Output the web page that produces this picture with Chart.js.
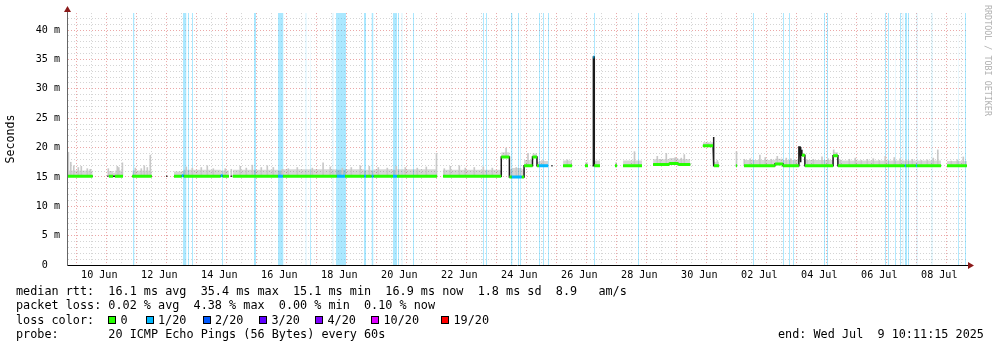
<!DOCTYPE html>
<html>
<head>
<meta charset="utf-8">
<script src="https://cdn.jsdelivr.net/npm/chart.js@4.4.1/dist/chart.umd.min.js"></script>
<style>
  body { margin: 0; background: #fff; }
  #wrap { position: relative; width: 997px; height: 347px; }
  .txt { position: absolute; left: 16px; font-family: "DejaVu Sans Mono", monospace; font-size: 11.8px; line-height: 14px; white-space: pre; color: #000; }
  .box { position: absolute; top: 316px; width: 6px; height: 6px; border: 1px solid #000; }
  #credit { position: absolute; left: 992px; top: 5px; transform: rotate(90deg); transform-origin: 0 0; font-family: "DejaVu Sans Mono", monospace; font-size: 8.4px; line-height: 9px; color: #b0b0b0; white-space: pre; }
</style>
</head>
<body>
<div id="wrap">
  <canvas id="chart" width="997" height="347"></canvas>
  <div class="txt" style="top:284px">median rtt:  16.1 ms avg  35.4 ms max  15.1 ms min  16.9 ms now  1.8 ms sd  8.9   am/s</div>
  <div class="txt" style="top:298.4px">packet loss: 0.02 % avg  4.38 % max  0.00 % min  0.10 % now</div>
  <div class="txt" style="top:312.8px">loss color:</div>
  <div id="losslegend"></div>
  <div class="txt" style="top:327.2px">probe:       20 ICMP Echo Pings (56 Bytes) every 60s</div>
  <div class="txt" style="top:327.2px;left:778px">end: Wed Jul  9 10:11:15 2025</div>
  <div id="credit">RRDTOOL / TOBI OETIKER</div>
</div>
<script>
// x values are days since 9 Jun 2025 00:00
const xMin = 0.424;
const xMax = 30.424;
const yMax = 42.9;

const xLabelDays = [1.5, 3.5, 5.5, 7.5, 9.5, 11.5, 13.5, 15.5, 17.5, 19.5, 21.5, 23.5, 25.5, 27.5, 29.5];
const xLabels = ["10 Jun", "12 Jun", "14 Jun", "16 Jun", "18 Jun", "20 Jun", "22 Jun", "24 Jun",
  "26 Jun", "28 Jun", "30 Jun", "02 Jul", "04 Jul", "06 Jul", "08 Jul"];
const yLabelValues = [0, 5, 10, 15, 20, 25, 30, 35, 40];
const yLabels = ["0  ", "5 m", "10 m", "15 m", "20 m", "25 m", "30 m", "35 m", "40 m"];

// median rtt (ms) as runs: start, end, value, loss class (null = no colour)
const medStart = [0.42, 1.77, 1.82, 1.96, 2.02, 2.60, 3.73, 3.99, 4.25, 4.31, 5.55, 5.61, 5.88, 5.95, 7.46, 7.62,
  9.42, 9.69, 10.33, 10.39, 10.58, 10.64, 11.29, 11.42, 12.96, 14.90, 15.17, 15.25, 15.58, 15.66, 15.94, 16.09,
  16.16, 16.57, 16.96, 17.69, 17.94, 17.97, 18.00, 18.69, 18.96, 19.96, 20.50, 20.80, 21.62, 21.96, 21.99, 22.72,
  22.99, 24.02, 24.29, 24.82, 24.86, 24.89, 24.92, 25.02, 25.96, 26.12, 28.35, 28.39, 28.72, 28.76, 29.76];
const medEnd = [1.28, 1.80, 1.96, 2.02, 2.29, 3.25, 3.77, 4.25, 4.31, 5.55, 5.61, 5.82, 5.92, 7.46, 7.62, 9.42,
  9.69, 10.33, 10.39, 10.58, 10.64, 11.29, 11.42, 12.76, 14.90, 15.17, 15.25, 15.58, 15.66, 15.94, 16.09, 16.16,
  16.46, 16.61, 17.26, 17.79, 17.97, 18.00, 18.19, 18.76, 19.59, 20.50, 20.80, 21.20, 21.96, 21.99, 22.16, 22.76,
  24.02, 24.29, 24.82, 24.86, 24.89, 24.92, 25.02, 25.96, 26.12, 28.35, 28.39, 28.72, 28.76, 29.56, 30.42];
const medValue = [15.1, 15.1, 15.1, 15.1, 15.1, 15.1, 15.1, 15.1, 15.2, 15.1, 15.2, 15.1, 15.1, 15.1, 15.1, 15.1,
  15.1, 15.1, 15.1, 15.1, 15.1, 15.1, 15.1, 15.1, 15.1, 18.4, 15.0, 15.0, 15.0, 16.9, 18.4, 16.9,
  16.9, 16.9, 16.9, 16.9, 16.9, 35.4, 16.9, 16.9, 16.9, 17.1, 17.3, 17.1, 20.3, 21.8, 16.9, 16.9,
  16.9, 17.2, 16.9, 20.1, 17.5, 19.5, 18.7, 16.9, 18.6, 16.9, 16.9, 16.9, 16.9, 16.9, 16.9];
const medLoss = [0, null, 0, null, 0, 0, null, 0, 1, 0, 1, 0, null, 0, 1, 0,
  1, 0, 1, 0, 1, 0, 1, 0, 0, 0, 0, 1, 0, 0, 0, 0,
  1, null, 0, 0, null, 1, 0, 0, 0, 0, 0, 0, 0, 0, 0, 0,
  0, 0, 0, null, null, null, 0, 0, 0, 0, 1, 0, 1, 0, 0];
const smokeTop = [16.1, 15.1, 16.0, 15.7, 16.1, 16.1, 15.1, 15.9, 16.0, 16.2, 16.1, 16.1, 15.1, 16.2, 16.1, 16.3,
  16.2, 16.3, 16.1, 16.2, 16.1, 16.3, 16.2, 16.3, 16.2, 19.2, 16.3, 16.5, 16.3, 17.9, 19.0, 17.6,
  17.7, 16.9, 17.8, 17.5, 16.9, 35.4, 17.8, 17.5, 17.8, 18.0, 18.2, 18.0, 20.9, 21.8, 17.6, 17.5,
  17.9, 18.1, 17.9, 20.1, 17.5, 19.5, 19.0, 17.9, 19.2, 17.8, 17.7, 17.8, 17.6, 17.8, 17.7];

// single tall smoke hairs
const spikeTime = [0.47, 0.55, 0.65, 0.8, 0.9, 1.1, 1.2, 1.8, 2.1, 2.15, 2.27, 2.7, 2.9, 3.0, 3.1, 3.2, 4.4, 4.6,
  4.9, 5.1, 5.3, 5.7, 5.9, 6.2, 6.4, 6.6, 6.9, 7.1, 7.3, 7.6, 7.8, 8.1, 8.6, 8.96, 9.2, 9.6, 9.9, 10.2,
  10.5, 10.8, 11.1, 11.4, 11.7, 12.1, 12.4, 12.74, 13.0, 13.2, 13.5, 13.7, 14.0, 14.3, 14.6, 15.06, 15.4,
  15.79, 16.3, 17.1, 18.05, 19.34, 20.1, 20.2, 20.4, 20.7, 20.9, 21.0, 21.79, 22.1, 22.74, 23.0, 23.2,
  23.52, 23.7, 23.9, 24.1, 24.4, 24.55, 24.7, 25.1, 25.3, 25.59, 25.8, 25.98, 26.2, 26.5, 26.7, 26.9,
  27.1, 27.3, 27.5, 27.7, 28.0, 28.2, 28.4, 28.6, 28.9, 29.1, 29.3, 29.45, 29.9, 30.1, 30.3];
const spikeTop = [19.2, 17.5, 16.9, 16.6, 16.8, 16.4, 16.3, 16.4, 16.8, 16.6, 17.4, 16.5, 16.4, 16.9, 16.6, 18.7, 16.7, 16.5,
  16.6, 16.9, 16.4, 16.4, 16.3, 16.8, 16.5, 17.0, 16.6, 16.9, 16.6, 16.3, 16.4, 16.6, 16.5, 17.4, 16.7, 16.5, 16.6, 16.9,
  16.8, 16.6, 16.5, 16.8, 16.6, 16.5, 16.7, 19.0, 16.4, 16.8, 16.9, 16.5, 16.6, 16.7, 16.5, 19.9, 16.6,
  19.0, 17.8, 17.9, 17.6, 19.3, 18.5, 18.0, 19.0, 18.3, 18.2, 18.8, 20.7, 17.8, 19.3, 18.0, 18.1,
  18.7, 18.3, 18.0, 18.5, 18.2, 18.1, 17.9, 17.9, 18.0, 18.4, 18.1, 19.6, 17.9, 18.0, 18.2, 17.8,
  18.0, 18.1, 17.8, 18.5, 18.3, 18.1, 17.9, 18.0, 17.8, 17.9, 18.2, 19.6, 17.7, 17.9, 18.4];

// packet loss periods (full height bars)
const lossStart = [2.624, 4.291, 4.457, 4.591, 5.591, 6.657, 7.457, 8.374, 8.524, 9.274, 9.391, 10.324, 10.574,
  11.291, 11.457, 11.574, 11.957, 14.291, 14.391, 15.224, 15.457, 15.524, 16.157, 16.291, 16.457, 17.991,
  19.457, 23.291, 24.291, 24.491, 24.624, 25.657, 25.757, 27.691, 27.791, 28.024, 28.191, 28.274, 28.357,
  28.457, 28.741, 29.241, 30.124, 30.357];
const lossEnd = [2.674, 4.407, 4.491, 4.624, 5.624, 6.724, 7.641, 8.407, 8.557, 9.307, 9.724, 10.391, 10.641,
  11.424, 11.491, 11.607, 11.991, 14.324, 14.424, 15.274, 15.491, 15.557, 16.191, 16.324, 16.491, 18.024,
  19.491, 23.324, 24.324, 24.524, 24.657, 25.691, 25.791, 27.724, 27.824, 28.057, 28.224, 28.307, 28.424,
  28.491, 28.774, 29.274, 30.157, 30.391];

const lossColors = ["#26ff00", "#00b8ff", "#0059ff", "#5e00ff", "#7e00ff", "#dd00ff", "#ff0000"];
const lossNames = ["0", "1/20", "2/20", "3/20", "4/20", "10/20", "19/20"];
const lossBoxX = [108, 145.5, 202.5, 259, 315, 371, 441];

// legend boxes
const legend = document.getElementById("losslegend");
lossNames.forEach((name, i) => {
  const b = document.createElement("div");
  b.className = "box";
  b.style.left = lossBoxX[i] + "px";
  b.style.background = lossColors[i];
  legend.appendChild(b);
  const t = document.createElement("div");
  t.className = "txt";
  t.style.top = "312.8px";
  t.style.left = (lossBoxX[i] + 12.5) + "px";
  t.textContent = name;
  legend.appendChild(t);
});

function runPoints(values, keep) {
  const pts = [];
  for (let i = 0; i < medStart.length; i++) {
    if (keep && !keep(i)) continue;
    pts.push({ x: medStart[i], y: values[i] }, { x: medEnd[i], y: values[i] });
    const next = medStart[i + 1];
    if (keep || next === undefined || next - medEnd[i] > 0.001) pts.push({ x: medEnd[i], y: null });
  }
  return pts;
}

function medianAt(t) {
  for (let i = 0; i < medStart.length; i++) {
    if (t >= medStart[i] && t <= medEnd[i]) return medValue[i];
  }
  return null;
}

const lossPoints = [];
lossStart.forEach((s, i) => {
  lossPoints.push({ x: s, y: yMax }, { x: lossEnd[i], y: yMax }, { x: lossEnd[i], y: null });
});

const spikeBars = spikeTime.map((t, i) => ({ x: t, y: [medianAt(t), spikeTop[i]] }));

const arrows = {
  id: "arrows",
  afterDraw(chart) {
    const { ctx, chartArea: a } = chart;
    ctx.save();
    ctx.strokeStyle = "#666";
    ctx.lineWidth = 1;
    ctx.beginPath();
    ctx.moveTo(a.left + 0.5, a.top);
    ctx.lineTo(a.left + 0.5, a.top - 3);
    ctx.stroke();
    ctx.strokeStyle = "#000";
    ctx.beginPath();
    ctx.moveTo(a.right, a.bottom + 0.5);
    ctx.lineTo(a.right + 2, a.bottom + 0.5);
    ctx.stroke();
    ctx.fillStyle = "#8b1a1a";
    ctx.beginPath();
    ctx.moveTo(a.left - 3, a.top - 1);
    ctx.lineTo(a.left + 4, a.top - 1);
    ctx.lineTo(a.left + 0.5, a.top - 7);
    ctx.closePath();
    ctx.fill();
    ctx.beginPath();
    ctx.moveTo(a.right + 1, a.bottom - 3);
    ctx.lineTo(a.right + 1, a.bottom + 4);
    ctx.lineTo(a.right + 7, a.bottom + 0.5);
    ctx.closePath();
    ctx.fill();
    ctx.restore();
  }
};

Chart.defaults.font.family = "'DejaVu Sans Mono', monospace";
Chart.defaults.color = "#000";

const majorGrid = "rgba(215, 80, 80, 0.5)";
const minorGrid = "#d4d4d4";

const ctx = document.getElementById("chart").getContext("2d");
const chart = new Chart(ctx, {
  type: "line",
  data: {
    datasets: [
      {
        label: "loss",
        data: lossPoints,
        borderColor: "rgba(0,0,0,0)",
        backgroundColor: "rgba(0, 184, 255, 0.33)",
        fill: "origin",
        pointRadius: 0,
        order: 10,
      },
      {
        label: "smoke",
        data: runPoints(smokeTop),
        borderColor: "rgba(0,0,0,0)",
        backgroundColor: "rgba(0, 0, 0, 0.16)",
        fill: 2,
        pointRadius: 0,
        order: 9,
      },
      {
        label: "median",
        data: runPoints(medValue),
        borderColor: "#1a1a1a",
        borderWidth: 1.5,
        pointRadius: 0,
        fill: false,
        order: 7,
      },
      {
        type: "bar",
        label: "smoke hairs",
        data: spikeBars,
        backgroundColor: "#c8c8c8",
        barThickness: 1,
        order: 8,
      },
      {
        label: "loss 0",
        data: runPoints(medValue, (i) => medLoss[i] === 0),
        borderColor: lossColors[0],
        borderWidth: 3,
        pointRadius: 0,
        fill: false,
        order: 6,
      },
      {
        label: "loss 1/20",
        data: runPoints(medValue, (i) => medLoss[i] === 1),
        borderColor: lossColors[1],
        borderWidth: 3,
        pointRadius: 0,
        fill: false,
        order: 5,
      },
    ],
  },
  options: {
    responsive: false,
    devicePixelRatio: 1,
    animation: false,
    layout: { padding: { left: 0, right: 30, top: 13, bottom: 62 } },
    plugins: { legend: { display: false }, tooltip: { enabled: false } },
    scales: {
      x: {
        type: "linear",
        min: xMin,
        max: xMax,
        offset: false,
        afterBuildTicks(scale) {
          const ticks = [];
          for (let v = 0.5; v <= 30; v += 0.5) ticks.push({ value: v });
          scale.ticks = ticks;
        },
        afterFit(scale) { scale.height = 20; },
        grid: {
          drawTicks: false,
          color: (c) => (c.tick && Number.isInteger(c.tick.value) ? majorGrid : minorGrid),
        },
        border: { color: "#000", width: 1, dash: [1, 2], z: 1 },
        ticks: {
          autoSkip: false,
          maxRotation: 0,
          minRotation: 0,
          padding: 4,
          font: { size: 10.1 },
          callback: (v) => {
            const i = xLabelDays.indexOf(v);
            return i >= 0 ? xLabels[i] : "";
          },
        },
      },
      y: {
        type: "linear",
        min: 0,
        max: yMax,
        afterBuildTicks(scale) {
          const ticks = [];
          for (let v = 0; v <= 42; v++) ticks.push({ value: v });
          scale.ticks = ticks;
        },
        afterFit(scale) { scale.width = 67; },
        grid: {
          drawTicks: false,
          color: (c) => (c.tick && c.tick.value % 5 === 0 ? majorGrid : minorGrid),
        },
        border: { color: "#666", width: 1, dash: [1, 2], z: 1 },
        title: {
          display: true,
          text: "Seconds",
          font: { size: 11.6 },
          padding: { top: 4, bottom: 0 },
        },
        ticks: {
          autoSkip: false,
          padding: 7,
          font: { size: 10.1 },
          callback: (v) => {
            const i = yLabelValues.indexOf(v);
            return i >= 0 ? yLabels[i] : "";
          },
        },
      },
    },
  },
  plugins: [arrows],
});
</script>
</body>
</html>
